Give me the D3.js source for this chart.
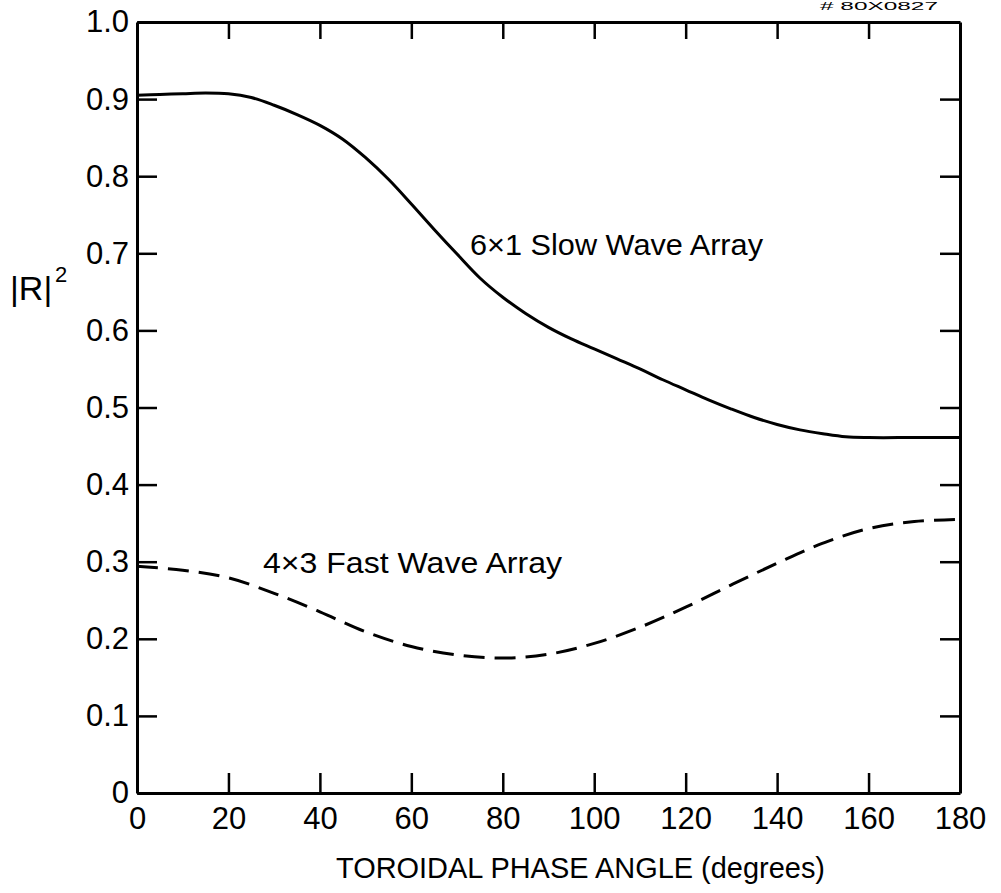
<!DOCTYPE html>
<html>
<head>
<meta charset="utf-8">
<script src="https://cdn.jsdelivr.net/npm/d3@7"></script>
<style>
  body { margin: 0; background: #fff; }
  svg text { font-family: "Liberation Sans", Arial, sans-serif; fill: #000; }
</style>
</head>
<body>
<svg id="chart"></svg>
<script>
const W = 1001;
const H = 893;

// phase angle (degrees) and |R|^2
const slowAngle = [0, 5, 10, 15, 20, 25, 30, 35, 40, 45, 50, 55, 60, 65, 70, 75, 80, 85, 90,
  95, 100, 105, 110, 115, 120, 125, 130, 135, 140, 145, 150, 155, 160, 170, 180];
const slowR2 = [0.905, 0.906, 0.907, 0.908, 0.907, 0.902, 0.892, 0.880, 0.866, 0.848, 0.824,
  0.796, 0.764, 0.731, 0.699, 0.668, 0.643, 0.622, 0.604, 0.589, 0.576, 0.563, 0.550, 0.536,
  0.523, 0.510, 0.498, 0.487, 0.478, 0.471, 0.466, 0.462, 0.461, 0.461, 0.461];

const fastAngle = [0, 10, 20, 30, 40, 50, 60, 70, 80, 90, 100, 110, 120, 130, 140, 150, 160, 170, 180];
const fastR2 = [0.294, 0.289, 0.279, 0.259, 0.235, 0.209, 0.190, 0.179, 0.175, 0.180, 0.194,
  0.215, 0.241, 0.270, 0.298, 0.324, 0.343, 0.352, 0.355];

const xTicks = [0, 20, 40, 60, 80, 100, 120, 140, 160, 180];
const yTicks = [0, 0.1, 0.2, 0.3, 0.4, 0.5, 0.6, 0.7, 0.8, 0.9, 1.0];

const slowLabel = "6\u00d71  Slow Wave Array";
const fastLabel = "4\u00d73  Fast Wave Array";
const xTitle = "TOROIDAL PHASE ANGLE (degrees)";
const figNo = "# 80X0827";

const svg = d3.select("#chart").attr("width", W).attr("height", H);
svg.append("rect").attr("width", W).attr("height", H).attr("fill", "#fff");

const x = d3.scaleLinear().domain([0, 180]).range([137, 960]);
const y = d3.scaleLinear().domain([0, 1]).range([793, 22]);

function styleAxis(g) {
  g.select(".domain").attr("stroke", "#000").attr("stroke-width", 3);
  g.selectAll(".tick line").attr("stroke", "#000").attr("stroke-width", 2.5);
  g.selectAll(".tick text").style("font-size", "31px").attr("fill", "#000");
}

// bottom
svg.append("g")
  .attr("transform", `translate(0,${y(0)})`)
  .call(d3.axisBottom(x).tickValues(xTicks).tickSize(-20).tickSizeOuter(0).tickPadding(14))
  .call(styleAxis);

// top
svg.append("g")
  .attr("transform", `translate(0,${y(1)})`)
  .call(d3.axisTop(x).tickValues(xTicks.slice(1, -1)).tickSize(-17).tickSizeOuter(0).tickFormat(""))
  .call(styleAxis);

// left
svg.append("g")
  .attr("transform", `translate(${x(0)},0)`)
  .call(d3.axisLeft(y).tickValues(yTicks).tickSize(-20).tickSizeOuter(0).tickPadding(8)
    .tickFormat(d => d === 0 ? "0" : d.toFixed(1)))
  .call(styleAxis);

// right
svg.append("g")
  .attr("transform", `translate(${x(180)},0)`)
  .call(d3.axisRight(y).tickValues(yTicks.slice(1, -1)).tickSize(-20).tickSizeOuter(0).tickFormat(""))
  .call(styleAxis);

const line = d3.line()
  .x(d => x(d[0]))
  .y(d => y(d[1]))
  .curve(d3.curveCatmullRom.alpha(0.5));

svg.append("path")
  .datum(slowAngle.map((a, i) => [a, slowR2[i]]))
  .attr("d", line)
  .attr("fill", "none")
  .attr("stroke", "#000")
  .attr("stroke-width", 3);

svg.append("path")
  .datum(fastAngle.map((a, i) => [a, fastR2[i]]))
  .attr("d", line)
  .attr("fill", "none")
  .attr("stroke", "#000")
  .attr("stroke-width", 3)
  .attr("stroke-dasharray", "21,10");

// curve labels
svg.append("text")
  .attr("x", 470).attr("y", 255)
  .style("font-size", "29px")
  .attr("textLength", 293).attr("lengthAdjust", "spacingAndGlyphs")
  .text(slowLabel);

svg.append("text")
  .attr("x", 263).attr("y", 573)
  .style("font-size", "29px")
  .attr("textLength", 299).attr("lengthAdjust", "spacingAndGlyphs")
  .text(fastLabel);

// x axis title
svg.append("text")
  .attr("x", 336).attr("y", 878)
  .style("font-size", "29px")
  .attr("textLength", 489).attr("lengthAdjust", "spacingAndGlyphs")
  .text(xTitle);

// y axis label |R|^2
const yl = svg.append("text").attr("x", 10).attr("y", 300).style("font-size", "34px");
yl.append("tspan").text("|R|");
yl.append("tspan").attr("x", 55).attr("y", 282).style("font-size", "22px").text("2");

// figure number at the top edge
svg.append("text")
  .attr("x", 820).attr("y", 10)
  .style("font-size", "11px")
  .attr("textLength", 118).attr("lengthAdjust", "spacingAndGlyphs")
  .text(figNo);
</script>
</body>
</html>
